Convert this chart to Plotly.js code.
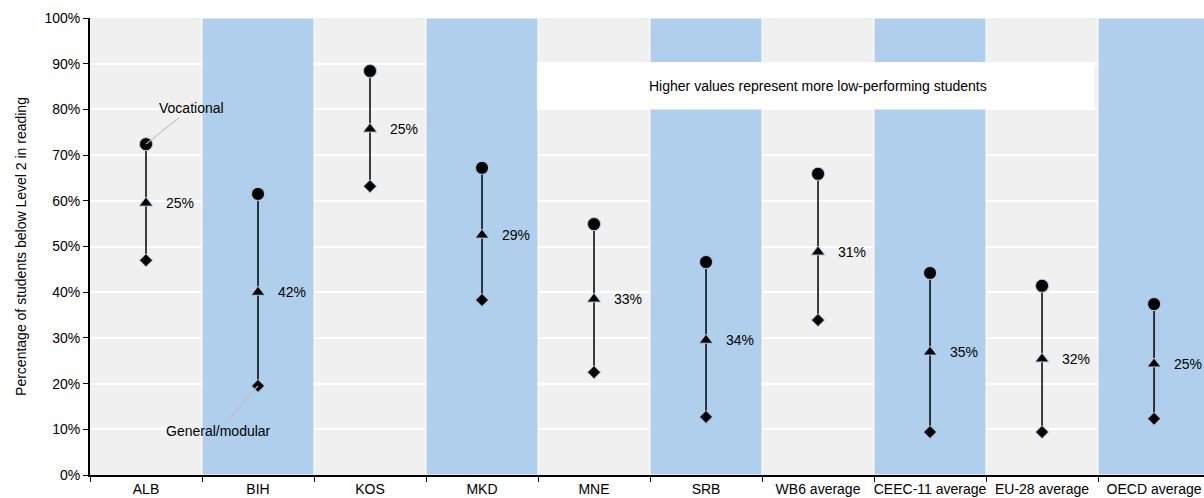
<!DOCTYPE html>
<html>
<head>
<meta charset="utf-8">
<script src="https://cdn.plot.ly/plotly-3.0.1.min.js"></script>
<style>html,body{margin:0;padding:0;background:#fff;}#chart{width:1204px;height:498px;}</style>
</head>
<body>
<div id="chart"></div>
<script>
const categories = ["ALB","BIH","KOS","MKD","MNE","SRB","WB6 average","CEEC-11 average","EU-28 average","OECD average"];
const vocational = [72.4, 61.5, 88.4, 67.2, 54.9, 46.6, 65.9, 44.2, 41.4, 37.4];
const allStudents = [59.5, 40.0, 75.7, 52.5, 38.5, 29.5, 48.8, 26.9, 25.4, 24.3];
const general = [47.0, 19.5, 63.2, 38.3, 22.5, 12.7, 33.9, 9.4, 9.4, 12.3];
const gapLabels = ["25%","42%","25%","29%","33%","34%","31%","35%","32%","25%"];
const shadedCategories = ["BIH","MKD","SRB","CEEC-11 average","OECD average"];
const shadedHeight = [100, 100, 100, 100, 100];
const yTickVals = [0,10,20,30,40,50,60,70,80,90,100];
const yTickText = ["0%","10%","20%","30%","40%","50%","60%","70%","80%","90%","100%"];

const FONT = '"Liberation Sans Narrow", "Arial Narrow", "Liberation Sans", Arial, sans-serif';
const markerLine = {color: '#a9cbe9', width: 1};

const traces = [];
traces.push({
  type: 'bar', x: shadedCategories, y: shadedHeight, width: 1,
  marker: {color: '#afcfec', line: {color: '#ffffff', width: 1}},
  hoverinfo: 'skip', showlegend: false
});
// connecting lines
const lx = [], ly = [];
categories.forEach((c, i) => { lx.push(c, c, null); ly.push(general[i], vocational[i], null); });
traces.push({type:'scatter', mode:'lines', x: lx, y: ly, line:{color:'#000', width:1.5}, hoverinfo:'skip', showlegend:false});
traces.push({type:'scatter', mode:'markers', name:'General/modular', x: categories, y: general,
  marker:{symbol:'diamond', size:10, color:'#000', line: markerLine}, showlegend:false});
traces.push({type:'scatter', mode:'markers', name:'All students', x: categories, y: allStudents,
  marker:{symbol:'triangle-up', size:12, color:'#000', line: markerLine}, showlegend:false});
traces.push({type:'scatter', mode:'markers', name:'Vocational', x: categories, y: vocational,
  marker:{symbol:'circle', size:13, color:'#000', line: markerLine}, showlegend:false});

const annotations = categories.map((c, i) => ({
  x: c, y: allStudents[i], xref:'x', yref:'y', text: gapLabels[i], showarrow:false,
  xanchor:'left', xshift: 18, font:{family: FONT, size: 14, color:'#000'}
}));
annotations.push({
  x: categories[0], y: vocational[0], xref:'x', yref:'y', text:'Vocational',
  showarrow:true, arrowhead:0, arrowwidth:1.2, arrowcolor:'#c0c0c0', ax:45, ay:-36,
  font:{family: FONT, size:14, color:'#000'}
});
annotations.push({
  x: categories[1], y: general[1], xref:'x', yref:'y', text:'General/modular',
  showarrow:true, arrowhead:0, arrowwidth:1.2, arrowcolor:'#c0c0c0', ax:-40, ay:45,
  font:{family: FONT, size:14, color:'#000'}
});
annotations.push({
  x: 6.0, y: 85.2, xref:'x', yref:'y', text:'Higher values represent more low-performing students',
  showarrow:false, font:{family: FONT, size:14, color:'#000'}
});

const layout = {
  width:1204, height:498,
  margin:{l:90, r:0, t:18, b:23, pad:0},
  paper_bgcolor:'#ffffff', plot_bgcolor:'#f0f0f0',
  font:{family: FONT, size:14, color:'#000'},
  showlegend:false,
  bargap:0,
  xaxis:{type:'category', categoryorder:'array', categoryarray: categories,
    range:[-0.5, 9.446], showgrid:false, zeroline:false,
    showline:true, linecolor:'#000', linewidth:2,
    ticks:'outside', tickson:'boundaries', ticklen:5, tickcolor:'#000', tickwidth:1,
    tickangle:0,
    tickfont:{family: FONT, size:14, color:'#000'}, automargin:false, fixedrange:true},
  yaxis:{range:[0,100], tickvals: yTickVals, ticktext: yTickText,
    showgrid:true, gridcolor:'#ffffff', gridwidth:2, zeroline:false,
    showline:true, linecolor:'#000', linewidth:2,
    ticks:'outside', ticklen:5, tickcolor:'#000', tickwidth:1,
    tickfont:{family: FONT, size:14, color:'#000'}, automargin:true,
    title:{text:'Percentage of students below Level 2 in reading', font:{family: FONT, size:14, color:'#000'}, standoff:14}},
  shapes:[{type:'rect', xref:'x', yref:'y', x0:3.49, x1:8.47, y0:80.0, y1:90.35,
    fillcolor:'#ffffff', line:{width:0}, layer:'above'}],
  annotations: annotations
};
Plotly.newPlot('chart', traces, layout, {displayModeBar:false, staticPlot:true});
</script>
</body>
</html>
